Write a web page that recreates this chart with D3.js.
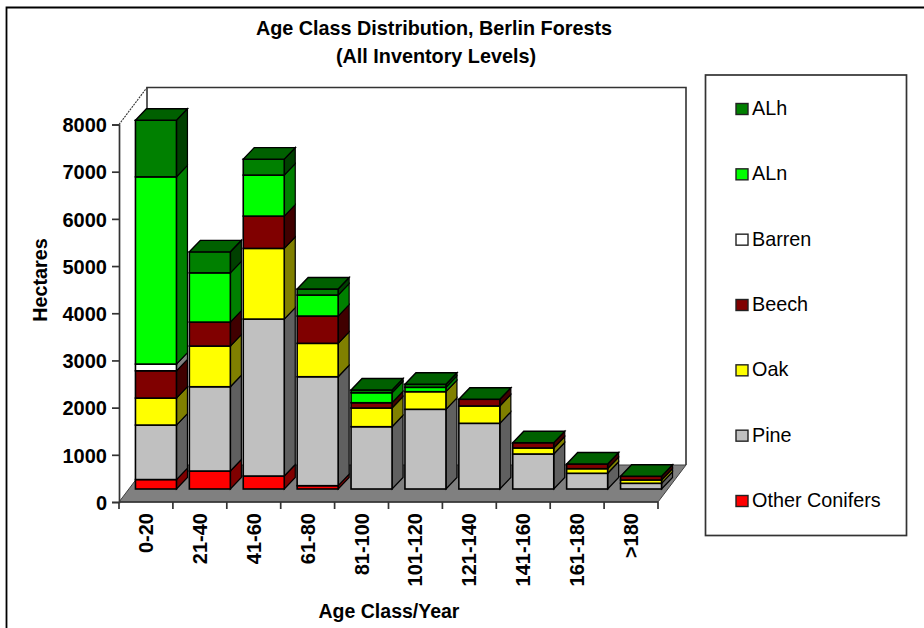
<!DOCTYPE html>
<html><head><meta charset="utf-8">
<script src="https://cdnjs.cloudflare.com/ajax/libs/d3/7.8.5/d3.min.js"></script>
<style>html,body{margin:0;padding:0;background:#fff}svg{display:block}text{font-family:"Liberation Sans",Arial,sans-serif}</style>
</head><body><svg id="c" width="924" height="628"></svg>
<script>
const categories = ["0-20","21-40","41-60","61-80","81-100","101-120","121-140","141-160","161-180",">180"];
const otherConifers = [200,381,275,70,0,0,0,0,0,0];
const pine = [1155,1786,3326,2309,1320,1689,1392,742,333,121];
const oak = [572,862,1498,708,396,373,367,127,97,70];
const beech = [578,508,684,578,112,0,142,112,100,78];
const barren = [142,0,0,0,0,0,0,0,0,0];
const aln = [3968,1044,869,445,212,93,0,0,0,0];
const alh = [1201,445,339,127,57,64,0,0,0,0];
const yTicks = [0,1000,2000,3000,4000,5000,6000,7000,8000];
const seriesNames = ["Other Conifers","Pine","Oak","Beech","Barren","ALn","ALh"];
const seriesValues = [otherConifers,pine,oak,beech,barren,aln,alh];
const frontColors = ["#ff0000","#c0c0c0","#ffff00","#800000","#ffffff","#00ff00","#008000"];
const sideColors = ["#800000","#606060","#808000","#400000","#808080","#008000","#004000"];

const svg = d3.select("#c");
const x = d3.scaleBand().domain(categories).range([119,658]);
const y = d3.scaleLinear().domain([0,8000]).range([502,124.5]);
const wallDx = 28, wallDy = 37, barDx = 11, barDy = 11.5, barOffX = 10, barOffY = 13, barW = 41;
const pts = a => a.map(p=>p.join(",")).join(" ");
const ink = "#000", axisInk = "#333";

// outer frame
svg.append("path").attr("d","M6.5 628V7.5H924").attr("fill","none").attr("stroke","#000").attr("stroke-width",1.8);

// floor and back walls
const x0=x.range()[0], x1=x.range()[1], y0=y(0), yT=y(8000);
svg.append("polygon").attr("points",pts([[x0,y0],[x0+wallDx,y0-wallDy],[x1+wallDx,y0-wallDy],[x1,y0]]))
  .attr("fill","#808080").attr("stroke","#404040").attr("stroke-width",1);
svg.append("path").attr("d",`M${x0+wallDx} ${y0-wallDy}V${yT-wallDy}H${x1+wallDx}V${y0-wallDy}`)
  .attr("fill","none").attr("stroke",axisInk).attr("stroke-width",1.6);
svg.append("line").attr("x1",x0).attr("y1",yT).attr("x2",x0+wallDx).attr("y2",yT-wallDy)
  .attr("stroke",axisInk).attr("stroke-width",1.1).attr("stroke-dasharray","2 1");

// bars
categories.forEach((c,i)=>{
  const left = x(c)+x.bandwidth()/2+barOffX-barW/2;
  const g = svg.append("g");
  let cum = 0;
  seriesValues.forEach((vals,s)=>{
    const v = vals[i]; if(!v) return;
    const yb = y(cum)-barOffY, yt = y(cum+v)-barOffY;
    g.append("polygon").attr("points",pts([[left+barW,yb],[left+barW+barDx,yb-barDy],[left+barW+barDx,yt-barDy],[left+barW,yt]]))
      .attr("fill",sideColors[s]).attr("stroke",ink).attr("stroke-width",1.2);
    g.append("rect").attr("x",left).attr("y",yt).attr("width",barW).attr("height",yb-yt)
      .attr("fill",frontColors[s]).attr("stroke",ink).attr("stroke-width",1.6);
    cum += v;
  });
  const yt = y(cum)-barOffY;
  g.append("polygon").attr("points",pts([[left,yt],[left+barDx,yt-barDy],[left+barW+barDx,yt-barDy],[left+barW,yt]]))
    .attr("fill","#006000").attr("stroke",ink).attr("stroke-width",1.4);
});

// axes
const yAxis = d3.axisLeft(y).tickValues(yTicks).tickFormat(d3.format("d")).tickSize(7).tickPadding(5);
const gy = svg.append("g").attr("transform",`translate(${x0},0)`).call(yAxis);
gy.selectAll("path,line").attr("stroke",axisInk).attr("stroke-width",1.7);
gy.selectAll("text").style("font-size","20px").style("font-weight","bold").attr("fill","#000").attr("dy","0.36em");
const edges = d3.scaleLinear().domain([0,categories.length]).range([x0,x1]);
const gx = svg.append("g").attr("transform",`translate(0,${y0})`);
gx.append("line").attr("x1",x0).attr("x2",x1).attr("stroke",axisInk).attr("stroke-width",1.7);
d3.range(categories.length+1).forEach(i=>gx.append("line").attr("x1",edges(i)).attr("x2",edges(i)).attr("y2",7).attr("stroke",axisInk).attr("stroke-width",1.7));
categories.forEach(c=>{
  gx.append("text").attr("transform",`translate(${x(c)+x.bandwidth()/2+7},11) rotate(-90)`)
    .attr("text-anchor","end").style("font-size","20px").style("font-weight","bold").text(c);
});

// titles
const bold = (t,px,py,fs)=>svg.append("text").attr("x",px).attr("y",py).attr("text-anchor","middle").style("font-size",fs+"px").style("font-weight","bold").text(t);
bold("Age Class Distribution, Berlin Forests",434,35,19.8);
bold("(All Inventory Levels)",436,63,19.8);
bold("Age Class/Year",389,618,19.5);
svg.append("text").attr("transform","translate(47,280) rotate(-90)").attr("text-anchor","middle").style("font-size","19.8px").style("font-weight","bold").text("Hectares");

// legend
svg.append("rect").attr("x",705.5).attr("y",75).attr("width",201).attr("height",460.5).attr("fill","#fff").attr("stroke",axisInk).attr("stroke-width",1.7);
const ly = d3.scalePoint().domain(seriesNames.slice().reverse()).range([109,501]);
seriesNames.forEach((n,s)=>{
  svg.append("rect").attr("x",736).attr("y",ly(n)-5.5).attr("width",12).attr("height",11).attr("fill",frontColors[s]).attr("stroke","#222").attr("stroke-width",1.4);
  svg.append("text").attr("x",752).attr("y",ly(n)+6).style("font-size","19.8px").attr("fill","#000").text(n);
});
</script></body></html>
